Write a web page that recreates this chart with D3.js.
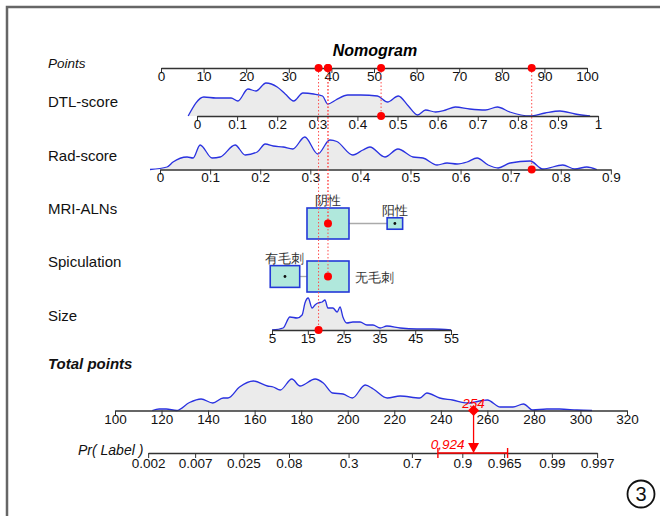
<!DOCTYPE html>
<html>
<head>
<meta charset="utf-8">
<script src="https://cdn.jsdelivr.net/npm/d3@7"></script>
<style>
  body { margin: 0; background: #fff; }
  svg text { font-family: "Liberation Sans", Arial, sans-serif; }
</style>
</head>
<body>
<svg id="chart" width="660" height="516"></svg>
<script>
// ---- data ----
const pointTicks = [0, 10, 20, 30, 40, 50, 60, 70, 80, 90, 100]
const dtlTicks = [0, 0.1, 0.2, 0.3, 0.4, 0.5, 0.6, 0.7, 0.8, 0.9, 1]
const radTicks = [0, 0.1, 0.2, 0.3, 0.4, 0.5, 0.6, 0.7, 0.8, 0.9]
const sizeTicks = [5, 15, 25, 35, 45, 55]
const totalTicks = [100, 120, 140, 160, 180, 200, 220, 240, 260, 280, 300, 320]
const prTicks = [0.002, 0.007, 0.025, 0.08, 0.3, 0.7, 0.9, 0.965, 0.99, 0.997]

// density outlines: [value, relative height]
const dtlDensity = [[-0.022,0],[0.017,19],[0.047,18],[0.085,18],[0.102,15],[0.127,27],[0.147,25],[0.172,33],[0.2,29],[0.22,22],[0.241,15],[0.264,23],[0.291,22],[0.313,20],[0.326,12],[0.346,16],[0.376,21],[0.408,21],[0.45,20],[0.475,14],[0.502,20],[0.527,10],[0.55,1],[0.57,6],[0.595,4],[0.62,6],[0.644,9],[0.68,7],[0.719,6],[0.749,9],[0.78,4],[0.83,0],[0.868,3],[0.905,5],[0.943,2],[0.98,0]]
const radDensity = [[-0.02,0],[0.014,2.5],[0.026,7.5],[0.054,12.5],[0.066,11.5],[0.08,24.5],[0.104,11.5],[0.12,12.5],[0.15,24.5],[0.17,14.5],[0.194,17.5],[0.21,25.5],[0.226,23.5],[0.246,22.5],[0.265,20.5],[0.289,32.5],[0.315,15.5],[0.339,29.5],[0.353,28],[0.385,14.5],[0.405,19.5],[0.419,22.5],[0.449,12.5],[0.475,20.5],[0.505,12.5],[0.525,11.5],[0.553,4.5],[0.573,6.5],[0.593,5.5],[0.613,7.5],[0.633,11.5],[0.655,4.5],[0.675,1.5],[0.699,6.5],[0.739,8.5],[0.764,0.5],[0.804,4.5],[0.828,0.5],[0.852,2.5],[0.872,0]]
const sizeDensity = [[5,0],[8.1,2],[10,13],[12,12],[13.4,15],[14.2,27],[15.1,32],[16.2,22],[17,25],[17.8,27],[19,28],[19.8,30],[20.6,22],[22,22],[23.2,18],[24,23],[24.8,13],[25.9,7],[27.6,8],[29.6,8],[31.5,5],[33.2,5],[35.2,2],[37.1,4],[40.8,2],[45.5,1],[50,1],[55,0]]
const totalDensity = [[116,0],[119,1.5],[122,1.5],[126.5,0],[132,8],[137,11.5],[142,7.5],[146.5,12.5],[148.5,12.5],[153.5,23.5],[159.5,29.5],[165.5,24.5],[168,23.5],[171,20.5],[176,31.5],[179.5,24.5],[186,31.5],[189.5,27.5],[193.5,17.5],[198,16.5],[202,12.5],[207.5,25.5],[211,21.5],[217,12.5],[222.5,14.5],[231,12.5],[234,17.5],[239.5,12.5],[245,10.5],[251.5,7.5],[260,10.5],[265.5,3.5],[271,3.5],[275.5,6.5],[279.5,0.5],[285.5,1.5],[291,1.5],[298.5,0.5],[305,0]]

const mriLevels = ['阴性', '阳性']
const mriShare = [0.88, 0.12]
const spicLevels = ['有毛刺', '无毛刺']
const spicShare = [0.33, 0.67]

// points given by each predictor (at the ends of its range / per level)
const dtlPoints = [8.45, 102.6]     // DTL-score 0 .. 1
const radPoints = [-0.23, 105.6]    // Rad-score 0 .. 0.9
const sizePoints = [26.06, 68.08]   // Size 5 .. 55
const mriPoints = [39.2, 54.9]
const spicPoints = [29.1, 39.2]
const prCoef = [-13.33, 0.0623]     // logit = a + b * total points

// the case shown
const caseDTL = 0.459
const caseRad = 0.742
const caseMRI = '阴性'
const caseSpic = '无毛刺'
const caseSize = 18
const caseCI = [0.824, 0.968]

// ---- drawing ----
const svg = d3.select('#chart')
const red = '#ff0000'
const blue = '#2a32e0'
const axisCol = '#333'
const tickFont = 13.5

svg.append('rect')
  .attr('x', 7).attr('y', 7).attr('width', 700).attr('height', 600)
  .attr('fill', 'none').attr('stroke', '#666').attr('stroke-width', 2.5)

const rowY = {points: 68, dtl: 116, rad: 169.5, mri: 223.5, spic: 276.5, size: 330, total: 410.5, pr: 453}

const px = d3.scaleLinear([0, 100], [161, 587])
const xDTL = d3.scaleLinear([0, 1], dtlPoints.map(px))
const xRad = d3.scaleLinear([0, 0.9], radPoints.map(px))
const xSize = d3.scaleLinear([5, 55], sizePoints.map(px))
const xTotal = d3.scaleLinear([100, 320], [115, 627])
const hScale = d3.scaleLinear([0, 35], [0, 35])

const logit = p => Math.log(p / (1 - p))
const totalOf = p => (logit(p) - prCoef[0]) / prCoef[1]
const xPr = d3.scaleLinear([logit(prTicks[0]), logit(prTicks[prTicks.length - 1])],
  [xTotal(totalOf(prTicks[0])), xTotal(totalOf(prTicks[prTicks.length - 1]))])

function drawAxis(scale, y, ticks, fmt, pad) {
  const g = svg.append('g')
    .attr('transform', 'translate(0,' + y + ')')
    .call(d3.axisBottom(scale).tickValues(ticks).tickFormat(fmt)
      .tickSize(5).tickSizeOuter(0).tickPadding(pad))
  g.select('.domain').attr('stroke', axisCol).attr('stroke-width', 1.4)
  g.selectAll('.tick line').attr('stroke', axisCol)
  g.selectAll('.tick text')
    .attr('fill', '#111')
    .attr('font-size', tickFont)
    .attr('font-family', '"Liberation Sans", Arial, sans-serif')
  return g
}

function drawDensity(data, scale, y) {
  const area = d3.area()
    .x(d => scale(d[0]))
    .y0(y)
    .y1(d => y - hScale(d[1]))
    .curve(d3.curveMonotoneX)
  const line = d3.line()
    .x(d => scale(d[0]))
    .y(d => y - hScale(d[1]))
    .curve(d3.curveMonotoneX)
  svg.append('path').attr('d', area(data)).attr('fill', '#ebebeb')
  svg.append('path').attr('d', line(data))
    .attr('fill', 'none').attr('stroke', blue).attr('stroke-width', 1.3)
}

// title and row labels
svg.append('text').attr('x', 375).attr('y', 56).attr('text-anchor', 'middle')
  .attr('font-size', 16).attr('font-weight', 'bold').attr('font-style', 'italic')
  .text('Nomogram')

const rowLabels = [
  {t: 'Points', y: rowY.points, size: 13.5, italic: true, bold: false},
  {t: 'DTL-score', y: 107, size: 15},
  {t: 'Rad-score', y: 161, size: 15},
  {t: 'MRI-ALNs', y: 214, size: 15},
  {t: 'Spiculation', y: 267, size: 15},
  {t: 'Size', y: 321, size: 15},
  {t: 'Total points', y: 369, size: 15, italic: true, bold: true}
]
svg.selectAll('.rowlabel').data(rowLabels).enter().append('text')
  .attr('class', 'rowlabel')
  .attr('x', 48).attr('y', d => d.y)
  .attr('font-size', d => d.size)
  .attr('font-style', d => d.italic ? 'italic' : null)
  .attr('font-weight', d => d.bold ? 'bold' : null)
  .attr('fill', '#111')
  .text(d => d.t)

// densities behind axes
drawDensity(dtlDensity, xDTL, rowY.dtl)
drawDensity(radDensity, xRad, rowY.rad)
drawDensity(sizeDensity, xSize, rowY.size)
drawDensity(totalDensity, xTotal, rowY.total)

const numFmt = d => d3.format('~g')(d)
drawAxis(px, rowY.points, pointTicks, numFmt, -2)
drawAxis(xDTL, rowY.dtl, dtlTicks, numFmt, -2)
drawAxis(xRad, rowY.rad, radTicks, numFmt, -2)
drawAxis(xSize, rowY.size, sizeTicks, numFmt, -2)
drawAxis(xTotal, rowY.total, totalTicks, numFmt, -1)
drawAxis(xPr, rowY.pr, prTicks.map(logit), (d, i) => String(prTicks[i]), 0)

svg.append('text').attr('x', 78).attr('y', 455)
  .attr('font-size', 14).attr('font-style', 'italic').attr('fill', '#111')
  .text('Pr( Label )')

// categorical rows
function drawBoxes(levels, shares, pts, y, chosen, labelSide) {
  const pmax = d3.max(shares)
  const boxes = levels.map((lv, i) => {
    const k = Math.sqrt(shares[i] / pmax)
    return {lv, cx: px(pts[i]), w: 42 * k, h: 31 * k, side: labelSide[i]}
  }).sort((a, b) => a.cx - b.cx)
  for (let i = 1; i < boxes.length; i++) {
    svg.append('line')
      .attr('x1', boxes[i - 1].cx + boxes[i - 1].w / 2).attr('x2', boxes[i].cx - boxes[i].w / 2)
      .attr('y1', y).attr('y2', y)
      .attr('stroke', '#aaa').attr('stroke-width', 1.3)
  }
  svg.selectAll(null).data(boxes).enter().append('rect')
    .attr('x', d => d.cx - d.w / 2).attr('y', d => y - d.h / 2)
    .attr('width', d => d.w).attr('height', d => d.h)
    .attr('fill', '#b0e8dc').attr('stroke', '#2438d8').attr('stroke-width', 1.6)
  svg.selectAll(null).data(boxes.filter(d => d.lv !== chosen)).enter().append('circle')
    .attr('cx', d => d.cx).attr('cy', y).attr('r', 1.4).attr('fill', '#111')
  svg.selectAll(null).data(boxes).enter().append('text')
    .attr('x', d => d.side === 'right' ? d.cx + d.w / 2 + 6 : d.cx)
    .attr('y', d => d.side === 'right' ? y + 5 : y - d.h / 2 - 3)
    .attr('text-anchor', d => d.side === 'right' ? 'start' : 'middle')
    .attr('font-size', 13)
    .attr('font-family', '"Noto Sans CJK SC", sans-serif')
    .attr('fill', '#333')
    .text(d => d.lv)
  return boxes
}
drawBoxes(mriLevels, mriShare, mriPoints, rowY.mri, caseMRI, ['above', 'above'])
drawBoxes(spicLevels, spicShare, spicPoints, rowY.spic, caseSpic, ['above', 'right'])

// the case: points per predictor
const mriIdx = mriLevels.indexOf(caseMRI)
const spicIdx = spicLevels.indexOf(caseSpic)
const caseMarks = [
  {pts: px.invert(xDTL(caseDTL)), x: xDTL(caseDTL), y: rowY.dtl},
  {pts: px.invert(xRad(caseRad)), x: xRad(caseRad), y: rowY.rad},
  {pts: mriPoints[mriIdx], x: px(mriPoints[mriIdx]), y: rowY.mri},
  {pts: spicPoints[spicIdx], x: px(spicPoints[spicIdx]), y: rowY.spic},
  {pts: px.invert(xSize(caseSize)), x: xSize(caseSize), y: rowY.size}
]
const total = d3.sum(caseMarks, d => d.pts)
const prob = 1 / (1 + Math.exp(-(prCoef[0] + prCoef[1] * total)))

svg.selectAll('.drop').data(caseMarks).enter().append('line')
  .attr('class', 'drop')
  .attr('x1', d => d.x).attr('x2', d => d.x)
  .attr('y1', rowY.points).attr('y2', d => d.y)
  .attr('stroke', '#ff4d4d').attr('stroke-width', 1).attr('stroke-dasharray', '1.5,2')

svg.selectAll('.ptdot').data(caseMarks).enter().append('circle')
  .attr('cx', d => px(d.pts)).attr('cy', rowY.points).attr('r', 4).attr('fill', red)
svg.selectAll('.vdot').data(caseMarks).enter().append('circle')
  .attr('cx', d => d.x).attr('cy', d => d.y).attr('r', 4).attr('fill', red)

// total points and probability
const xt = xTotal(total)
svg.append('line').attr('x1', xt).attr('x2', xt)
  .attr('y1', rowY.total).attr('y2', rowY.pr - 10)
  .attr('stroke', red).attr('stroke-width', 1.3)
svg.append('path')
  .attr('d', d3.symbol(d3.symbolSquare, 62)())
  .attr('transform', 'translate(' + xt + ',' + rowY.total + ') rotate(45)')
  .attr('fill', red)
svg.append('text').attr('x', xt).attr('y', 408).attr('text-anchor', 'middle')
  .attr('font-size', 13.5).attr('font-style', 'italic').attr('fill', red)
  .text(Math.round(total))

const ciX = caseCI.map(p => xPr(logit(p)))
const xp = xPr(logit(prob))
svg.append('line').attr('x1', ciX[0]).attr('x2', ciX[1])
  .attr('y1', rowY.pr).attr('y2', rowY.pr).attr('stroke', red).attr('stroke-width', 1.6)
svg.selectAll('.cicap').data(ciX).enter().append('line')
  .attr('x1', d => d).attr('x2', d => d)
  .attr('y1', rowY.pr - 5).attr('y2', rowY.pr + 5)
  .attr('stroke', red).attr('stroke-width', 1.4)
const tri = d3.path()
tri.moveTo(xp - 5.5, rowY.pr - 10)
tri.lineTo(xp + 5.5, rowY.pr - 10)
tri.lineTo(xp, rowY.pr)
tri.closePath()
svg.append('path').attr('d', tri.toString()).attr('fill', red)
svg.append('text').attr('x', xp - 9).attr('y', 449).attr('text-anchor', 'end')
  .attr('font-size', 13.5).attr('font-style', 'italic').attr('fill', red)
  .text(d3.format('.3f')(prob).replace('.', ','))

// panel number
svg.append('circle').attr('cx', 641).attr('cy', 494).attr('r', 13.5)
  .attr('fill', 'none').attr('stroke', '#111').attr('stroke-width', 1.8)
svg.append('text').attr('x', 641).attr('y', 501).attr('text-anchor', 'middle')
  .attr('font-size', 20).attr('fill', '#111').text('3')
</script>
</body>
</html>
